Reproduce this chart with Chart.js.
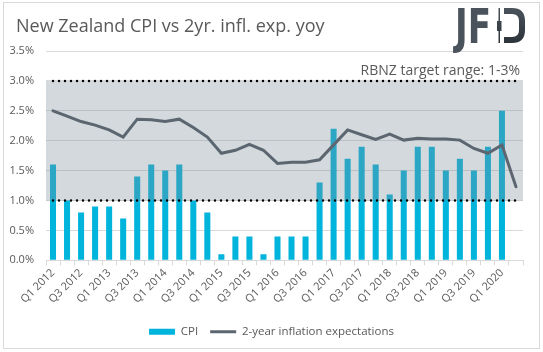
<!DOCTYPE html>
<html>
<head>
<meta charset="utf-8">
<script src="https://cdn.jsdelivr.net/npm/chart.js@4.4.0/dist/chart.umd.min.js"></script>
<style>
  html, body { margin: 0; padding: 0; background: #fff; }
  #wrap { position: relative; width: 543px; height: 352px; }
</style>
</head>
<body>
<div id="wrap"><canvas id="graficoCpi"></canvas></div>
<script>
// datos
const quarters = [
  'Q1 2012', 'Q2 2012', 'Q3 2012', 'Q4 2012',
  'Q1 2013', 'Q2 2013', 'Q3 2013', 'Q4 2013',
  'Q1 2014', 'Q2 2014', 'Q3 2014', 'Q4 2014',
  'Q1 2015', 'Q2 2015', 'Q3 2015', 'Q4 2015',
  'Q1 2016', 'Q2 2016', 'Q3 2016', 'Q4 2016',
  'Q1 2017', 'Q2 2017', 'Q3 2017', 'Q4 2017',
  'Q1 2018', 'Q2 2018', 'Q3 2018', 'Q4 2018',
  'Q1 2019', 'Q2 2019', 'Q3 2019', 'Q4 2019',
  'Q1 2020', 'Q2 2020'
];
const cpi = [
  1.6, 1.0, 0.8, 0.9, 0.9, 0.7, 1.4, 1.6,
  1.5, 1.6, 1.0, 0.8, 0.1, 0.4, 0.4, 0.1,
  0.4, 0.4, 0.4, 1.3, 2.2, 1.7, 1.9, 1.6,
  1.1, 1.5, 1.9, 1.9, 1.5, 1.7, 1.5, 1.9,
  2.5, null
];
const inflExp = [
  2.50, 2.41, 2.32, 2.26, 2.18, 2.06, 2.36, 2.35,
  2.32, 2.36, 2.22, 2.06, 1.79, 1.84, 1.94, 1.84,
  1.62, 1.64, 1.64, 1.68, 1.93, 2.18, 2.10, 2.02,
  2.11, 2.01, 2.04, 2.03, 2.03, 2.01, 1.87, 1.79,
  1.93, 1.23
];
const targetLow = 1;
const targetHigh = 3;
const targetTopLine = [
  3, 3, 3, 3, 3, 3, 3, 3, 3, 3, 3, 3, 3, 3, 3, 3, 3,
  3, 3, 3, 3, 3, 3, 3, 3, 3, 3, 3, 3, 3, 3, 3, 3, 3
];
const targetBottomLine = [
  1, 1, 1, 1, 1, 1, 1, 1, 1, 1, 1, 1, 1, 1, 1, 1, 1,
  1, 1, 1, 1, 1, 1, 1, 1, 1, 1, 1, 1, 1, 1, 1, 1, 1
];
const yTicks = [0, 0.5, 1, 1.5, 2, 2.5, 3, 3.5];

const fuente = "'Open Sans', 'Noto Sans', sans-serif";
const gris = '#595959';
Chart.defaults.font.family = fuente;

// titulo, logo, marco y nota del rango meta
const decoracion = {
    id: 'decoracion',
    afterDraw(chart) {
        const ctx = chart.ctx;
        const y = chart.scales.y;
        ctx.save();
        ctx.strokeStyle = '#d9d9d9';
        ctx.lineWidth = 1;
        ctx.strokeRect(3.5, 2.5, 536, 346);

        ctx.fillStyle = gris;
        ctx.font = '18px ' + fuente;
        ctx.textBaseline = 'middle';
        ctx.textAlign = 'left';
        ctx.fillText('New Zealand CPI vs 2yr. infl. exp. yoy', 16, 27);

        ctx.font = '14px ' + fuente;
        ctx.textAlign = 'right';
        ctx.fillText('RBNZ target range: 1-3%', 520, y.getPixelForValue(targetHigh) - 10);

        // logo JFD (J F + vela + D)
        const grad = ctx.createLinearGradient(0, 8, 0, 43);
        grad.addColorStop(0, '#4a525b');
        grad.addColorStop(1, '#2c333a');
        ctx.fillStyle = grad;
        ctx.strokeStyle = grad;
        ctx.save();
        ctx.font = 'bold 48px "DejaVu Sans"';
        ctx.textAlign = 'left';
        ctx.textBaseline = 'alphabetic';
        const w = ctx.measureText('JF').width;
        ctx.translate(455, 43);
        ctx.scale(36 / w, 1);
        ctx.fillText('JF', 0, 0);
        ctx.restore();
        ctx.fillRect(498.5, 8, 1.5, 35);
        ctx.fillRect(497, 21, 4.5, 10);
        ctx.lineWidth = 6;
        ctx.beginPath();
        ctx.moveTo(504, 11);
        ctx.lineTo(512, 11);
        ctx.quadraticCurveTo(522, 11, 522, 21);
        ctx.lineTo(522, 30);
        ctx.quadraticCurveTo(522, 40, 512, 40);
        ctx.lineTo(504, 40);
        ctx.stroke();
        ctx.restore();
    }
};

const ctx = document.getElementById('graficoCpi').getContext('2d');
new Chart(ctx, {
    type: 'bar',
    data: {
        labels: quarters,
        datasets: [
            {
                label: 'CPI',
                data: cpi,
                backgroundColor: 'rgb(0, 180, 220)',
                borderWidth: 0,
                barPercentage: 0.43,
                categoryPercentage: 1,
                grouped: false,
                pointStyle: 'rect',
                order: 4
            },
            {
                type: 'line',
                label: '2-year inflation expectations',
                data: inflExp,
                borderColor: '#5b6670',
                backgroundColor: '#5b6670',
                borderWidth: 3,
                borderCapStyle: 'round',
                pointRadius: 0,
                pointStyle: 'line',
                tension: 0,
                fill: false,
                order: 1
            },
            {
                type: 'line',
                label: 'band',
                xAxisID: 'xBand',
                data: [{x: 0, y: targetHigh}, {x: 34, y: targetHigh}],
                backgroundColor: 'rgba(125, 144, 153, 0.34)',
                borderWidth: 0,
                pointRadius: 0,
                fill: {value: targetLow},
                order: 3
            },
            {
                type: 'line',
                label: 'top',
                data: targetTopLine,
                borderColor: '#000',
                borderWidth: 2.5,
                borderDash: [0, 6],
                borderCapStyle: 'round',
                pointRadius: 0,
                fill: false,
                order: 2
            },
            {
                type: 'line',
                label: 'bottom',
                data: targetBottomLine,
                borderColor: '#000',
                borderWidth: 2.5,
                borderDash: [0, 6],
                borderCapStyle: 'round',
                pointRadius: 0,
                fill: false,
                order: 2
            }
        ]
    },
    options: {
        responsive: true,
        maintainAspectRatio: false,
        animation: false,
        layout: {
            padding: {left: 0, right: 0, top: 51, bottom: 4.5}
        },
        plugins: {
            tooltip: {enabled: false},
            legend: {
                position: 'bottom',
                labels: {
                    filter: item => item.datasetIndex < 2,
                    sort: (a, b) => a.datasetIndex - b.datasetIndex,
                    usePointStyle: true,
                    pointStyleWidth: 26,
                    boxHeight: 6,
                    color: gris,
                    padding: 12,
                    font: {size: 11.5}
                }
            }
        },
        scales: {
            x: {
                offset: true,
                grid: {
                    offset: true,
                    drawOnChartArea: false,
                    drawTicks: true,
                    tickLength: 5,
                    color: '#d9d9d9'
                },
                border: {display: true, color: '#d9d9d9'},
                ticks: {
                    autoSkip: false,
                    minRotation: 45,
                    maxRotation: 45,
                    padding: 1,
                    color: gris,
                    font: {size: 11},
                    callback: (v, i) => i % 2 === 0 ? quarters[i] : ''
                },
                afterFit: s => { s.height = 53.7; }
            },
            xBand: {
                type: 'linear',
                display: false,
                offset: false,
                bounds: 'data',
                min: 0,
                max: 34
            },
            y: {
                min: 0,
                max: 3.5,
                afterBuildTicks: s => { s.ticks = yTicks.map(v => ({value: v})); },
                grid: {color: '#d9d9d9', drawTicks: false},
                border: {display: false},
                ticks: {
                    padding: 12,
                    color: gris,
                    font: {size: 11},
                    callback: v => v.toFixed(1) + '%'
                },
                afterFit: s => { s.width = 46; }
            },
            // eje vacio a la derecha, solo para dejar margen
            yDer: {
                type: 'linear',
                position: 'right',
                display: true,
                grid: {display: false},
                border: {display: false},
                ticks: {display: false},
                afterFit: s => { s.width = 20; }
            }
        }
    },
    plugins: [decoracion]
});
</script>
</body>
</html>
